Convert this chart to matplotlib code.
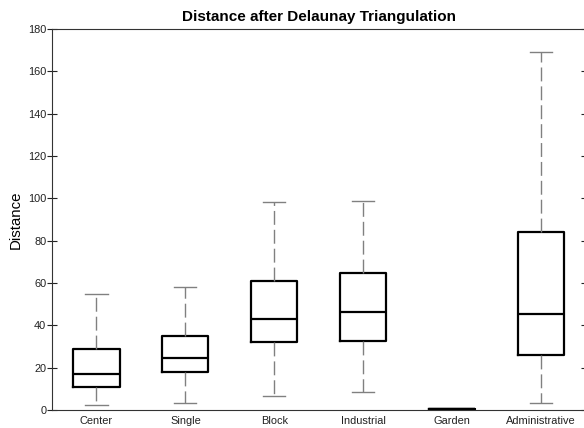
import matplotlib
matplotlib.use("Agg")
import matplotlib.pyplot as plt

plt.rcParams['font.family'] = ['Liberation Sans', 'DejaVu Sans']
plt.rcParams['lines.scale_dashes'] = False

categories = ["Center", "Single", "Block", "Industrial", "Garden", "Administrative"]
whislo = [2.4, 3.5, 6.8, 8.7, 0.3, 3.2]
q1 = [10.9, 17.9, 32.3, 32.8, 0.3, 26.0]
med = [16.9, 24.4, 43.2, 46.3, 0.3, 45.4]
q3 = [28.7, 35.0, 61.0, 64.6, 0.3, 84.3]
whishi = [54.7, 58.3, 98.3, 98.6, 0.3, 169.3]

stats = []
for i in range(len(categories)):
    stats.append({"label": categories[i], "whislo": whislo[i], "q1": q1[i], "med": med[i],
                  "q3": q3[i], "whishi": whishi[i], "fliers": []})

fig = plt.figure(figsize=(5.84, 4.28), dpi=100)
ax = fig.add_axes([52 / 584, 1 - 410 / 428, 533.5 / 584, 381 / 428])

gray = '#808080'
ax.bxp(stats, positions=range(1, 7), widths=0.52, capwidths=0.25, showfliers=False,
       boxprops=dict(color='black', linewidth=1.6),
       medianprops=dict(color='black', linewidth=1.6),
       whiskerprops=dict(color=gray, linewidth=1.0, linestyle=(0, (10, 3.6))),
       capprops=dict(color=gray, linewidth=1.0))

ax.set_xlim(0.5, 6.5)
ax.set_ylim(0, 180)
ax.set_yticks(range(0, 181, 20))
ax.set_xticks(range(1, 7))
ax.set_xticklabels(categories)
ax.tick_params(axis='x', length=0, pad=4.5, labelsize=7.9, colors='#222222')
ax.tick_params(axis='y', direction='inout', length=7, width=0.8, pad=0.6, labelsize=7.9,
               left=True, right=True, colors='#222222')
for s in ax.spines.values():
    s.set_linewidth(0.8)
    s.set_color('#333333')

ax.set_ylabel("Distance", fontsize=10.8, labelpad=3.5)
ax.set_title("Distance after Delaunay Triangulation", fontsize=11, fontweight='bold', pad=6)

fig.savefig("out.png", dpi=100)
